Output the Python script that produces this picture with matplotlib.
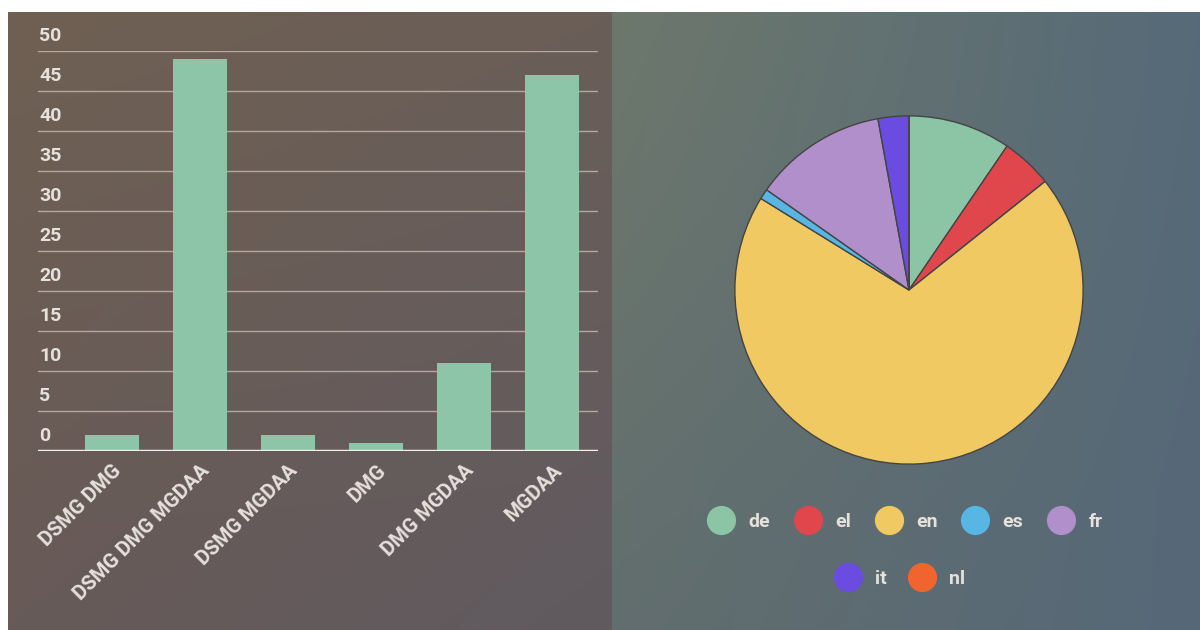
import matplotlib.pyplot as plt
import numpy as np
from matplotlib.lines import Line2D
from matplotlib.colors import to_rgb

plt.rcParams['font.family'] = ['Roboto', 'DejaVu Sans']

# ---------- data ----------
groups = ["DSMG DMG", "DSMG DMG MGDAA", "DSMG MGDAA", "DMG", "DMG MGDAA", "MGDAA"]
group_counts = [2, 49, 2, 1, 11, 47]

langs = ["de", "el", "en", "es", "fr", "it", "nl"]
lang_counts = [10, 5, 73, 1, 13, 3, 0]
lang_colors = ["#8cc5a5", "#e0474c", "#f0c962", "#58b6e4", "#b08fcb", "#6a4ce0", "#f0652e"]

y_ticks = [0, 5, 10, 15, 20, 25, 30, 35, 40, 45, 50]

text_col = "#e6e1dc"
bar_col = "#8cc5a7"

fig = plt.figure(figsize=(12, 6.3), dpi=100)
fig.patch.set_facecolor("white")
W, H = 1200, 630


def gradient_panel(x0, x1, c_tl, c_tr, c_bl, c_br):
    ax = fig.add_axes([x0 / W, 0, (x1 - x0) / W, (H - 12) / H], zorder=0)
    tl, tr, bl, br = [np.array(to_rgb(c)) for c in (c_tl, c_tr, c_bl, c_br)]
    u = np.linspace(0, 1, 200)[None, :, None]
    v = np.linspace(0, 1, 100)[:, None, None]
    top = tl * (1 - u) + tr * u
    bot = bl * (1 - u) + br * u
    img = top * (1 - v) + bot * v
    ax.imshow(img, aspect="auto", extent=[0, 1, 1, 0], interpolation="bilinear")
    ax.set_axis_off()


gradient_panel(8, 612, "#6f6052", "#6a5e58", "#675a58", "#605a60")
gradient_panel(612, 1200, "#6d786c", "#566a78", "#626e6e", "#566878")

# ---------- bar chart ----------
ax = fig.add_axes([38 / W, 1 - 451 / H, 560 / W, 400 / H], zorder=2)
ax.patch.set_alpha(0)
x = np.arange(len(groups))
ax.bar(x, group_counts, width=0.61, color=bar_col, zorder=3)
ax.set_xlim(-0.84, 5.52)
ax.set_ylim(0, 50)
ax.set_yticks(y_ticks)
ax.set_yticklabels([])
ax.grid(axis="y", color="#b5a89e", linewidth=1, zorder=1)
ax.axhline(0, color="#f2eeea", linewidth=2.5, zorder=4)
for s in ax.spines.values():
    s.set_visible(False)
ax.tick_params(length=0)
ax.set_xticks(x)
ax.set_xticklabels(groups, rotation=45, ha="right", rotation_mode="anchor",
                   color=text_col, fontsize=14.5, fontweight="bold")
ax.tick_params(axis="x", pad=7)
# y labels sit just above their gridline, left aligned
for t in y_ticks:
    ax.annotate(str(t), xy=(0, t), xycoords=("axes fraction", "data"),
                xytext=(1, 4), textcoords="offset points", ha="left", va="bottom",
                color=text_col, fontsize=14, fontweight="bold")

# ---------- pie chart ----------
r = 175
pax = fig.add_axes([(909 - r) / W, 1 - (290 + r) / H, 2 * r / W, 2 * r / H], zorder=2)
pax.pie(lang_counts, colors=lang_colors, startangle=90, counterclock=False,
        wedgeprops=dict(edgecolor="#444444", linewidth=1))
pax.set_xlim(-1.005, 1.005)
pax.set_ylim(-1.005, 1.005)
pax.set_aspect("equal")

handles = [Line2D([], [], marker="o", linestyle="", markersize=20,
                  markerfacecolor=c, markeredgecolor=c) for c in lang_colors]
fig.legend(handles[:5], langs[:5], loc="center", bbox_to_anchor=(902 / W, 1 - 522 / H),
           ncol=5, frameon=False, labelcolor=text_col, handletextpad=0.4,
           columnspacing=0.95, prop=dict(size=14, weight="bold"))
fig.legend(handles[5:], langs[5:], loc="center", bbox_to_anchor=(897 / W, 1 - 579 / H),
           ncol=2, frameon=False, labelcolor=text_col, handletextpad=0.4,
           columnspacing=0.8, prop=dict(size=14, weight="bold"))

fig.savefig("out.png", dpi=100, facecolor="white")
